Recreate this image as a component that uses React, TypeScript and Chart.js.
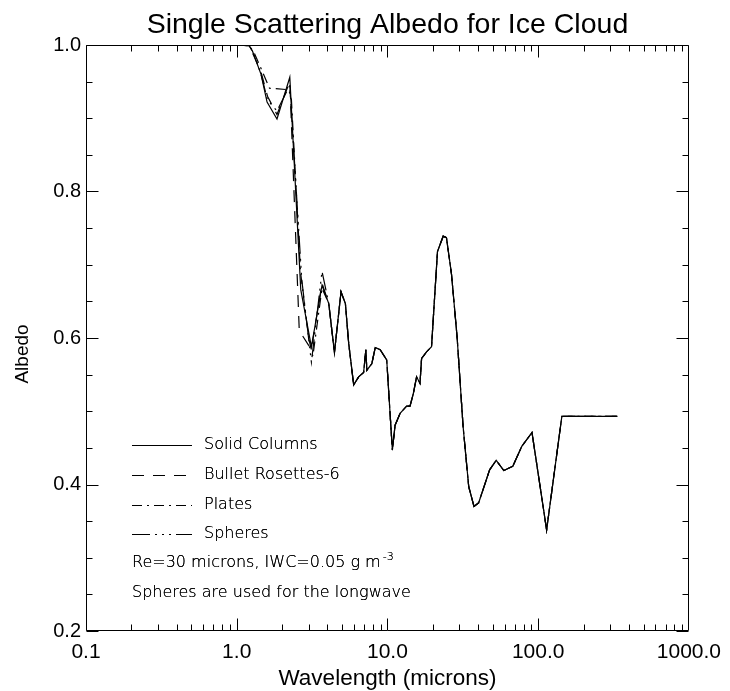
import { useEffect, useRef } from "react";
import { Chart, registerables } from "chart.js";

Chart.register(...registerables);

// Shortwave part of each habit (microns, albedo)
const solidWl = [1.0, 1.21, 1.27, 1.45, 1.59, 1.85, 2.25, 2.66, 3.13, 3.68];
const solidAlb = [1.0, 0.999, 0.992, 0.96, 0.922, 0.899, 0.956, 0.666, 0.588, 0.672];

const rosetteWl = [1.0, 1.21, 1.3, 1.45, 1.6, 1.85, 2.25, 2.6, 3.0, 3.13, 3.68];
const rosetteAlb = [1.0, 0.999, 0.985, 0.963, 0.93, 0.905, 0.95, 0.61, 0.59, 0.585, 0.675];

const plateWl = [1.0, 1.21, 1.3, 1.45, 1.65, 2.2, 2.3, 2.65, 3.0, 3.2, 3.68];
const plateAlb = [1.0, 0.999, 0.99, 0.968, 0.941, 0.939, 0.93, 0.69, 0.6, 0.575, 0.668];

const sphereWl = [1.0, 1.21, 1.3, 1.45, 1.6, 1.85, 2.25, 2.7, 3.13, 3.68];
const sphereAlb = [1.0, 0.999, 0.988, 0.96, 0.925, 0.91, 0.945, 0.68, 0.567, 0.691];

// Longwave part, common to all habits (spheres)
const longWl = [
  4.08, 4.45, 4.92, 5.26, 5.53, 5.97, 6.44, 6.95, 7.19, 7.3, 7.88, 8.3, 8.95, 9.89,
  10.78, 11.24, 12.13, 13.41, 14.12, 14.85, 15.61, 16.44, 16.85, 18.17, 19.61, 20.12,
  21.48, 23.43, 24.63, 26.58, 28.97, 31.77, 34.62, 37.52, 40.3, 47.64, 52.67, 59.19,
  67.88, 77.83, 91.0, 113.8, 143.6, 334.8,
];
const longAlb = [
  0.647, 0.58, 0.663, 0.647, 0.593, 0.536, 0.547, 0.553, 0.584, 0.556, 0.565, 0.587, 0.584, 0.57,
  0.447, 0.481, 0.497, 0.507, 0.507, 0.524, 0.547, 0.538, 0.572, 0.581, 0.588, 0.625,
  0.718, 0.739, 0.737, 0.688, 0.602, 0.479, 0.397, 0.37, 0.375, 0.42, 0.433, 0.419,
  0.425, 0.452, 0.471, 0.338, 0.493, 0.493,
];

const seriesNames = ["Solid Columns", "Bullet Rosettes-6", "Plates", "Spheres"];
const seriesDashes: number[][] = [[], [12, 9], [10, 5, 2, 5], [18, 5, 2, 5, 2, 5, 2, 5]];

const xTickValues = [0.1, 1, 10, 100, 1000];
const xTickLabels = ["0.1", "1.0", "10.0", "100.0", "1000.0"];
const yTickValues = [0.2, 0.4, 0.6, 0.8, 1.0];
const yTickLabels = ["0.2", "0.4", "0.6", "0.8", "1.0"];

const titleText = "Single Scattering Albedo for Ice Cloud";
const xTitle = "Wavelength (microns)";
const yTitle = "Albedo";
const noteLine1 = "Re=30 microns, IWC=0.05 g m";
const noteSup = "-3";
const noteLine2 = "Spheres are used for the longwave";

const toPoints = (wl: number[], alb: number[]) => {
  const pts = wl.map((w, i) => ({ x: w, y: alb[i] }));
  return pts.concat(longWl.map((w, i) => ({ x: w, y: longAlb[i] })));
};

const LABEL_FONT = "'Liberation Sans', Arial, sans-serif";
const NOTE_FONT = "200 16px 'DejaVu Sans', sans-serif";

// thin note text, filled twice so the hairline strokes read as black
const darkText = (ctx: CanvasRenderingContext2D, s: string, x: number, y: number) => {
  ctx.fillText(s, x, y);
  ctx.fillText(s, x, y);
};

const framePlugin = {
  id: "idlFrame",
  afterDatasetsDraw(chart: any) {
    const { ctx, chartArea: a, scales } = chart;
    const xs = scales.x;
    const ys = scales.y;
    const L = Math.round(a.left) + 0.5;
    const R = Math.round(a.right) - 0.5;
    const T = Math.round(a.top) + 0.5;
    const B = Math.round(a.bottom) - 0.5;
    ctx.save();
    ctx.strokeStyle = "#000";
    ctx.lineWidth = 1;
    ctx.setLineDash([]);
    ctx.beginPath();
    ctx.rect(L, T, R - L, B - T);
    // y ticks: majors every 0.2, minors every 0.05, pointing inward on both sides
    for (let k = 0; k <= 16; k++) {
      const v = 0.2 + k * 0.05;
      const py = Math.round(ys.getPixelForValue(v)) + 0.5;
      const len = k % 4 === 0 ? 12 : 6;
      ctx.moveTo(L, py);
      ctx.lineTo(L + len, py);
      ctx.moveTo(R, py);
      ctx.lineTo(R - len, py);
    }
    // x ticks: decades major, 2..9 minor
    for (let d = 0; d < 4; d++) {
      const base = xTickValues[d];
      for (let m = 1; m <= 9; m++) {
        const px = Math.round(xs.getPixelForValue(base * m)) + 0.5;
        const len = m === 1 ? 12 : 6;
        ctx.moveTo(px, B);
        ctx.lineTo(px, B - len);
        ctx.moveTo(px, T);
        ctx.lineTo(px, T + len);
      }
    }
    ctx.stroke();

    // Legend block
    const lx0 = 132;
    const lx1 = 192;
    const tx = 204;
    const rowY = [445, 475, 505, 534, 563, 593];
    ctx.font = NOTE_FONT;
    ctx.fillStyle = "#000";
    ctx.textBaseline = "middle";
    ctx.textAlign = "left";
    seriesNames.forEach((name, i) => {
      ctx.beginPath();
      ctx.setLineDash(seriesDashes[i]);
      ctx.moveTo(lx0, rowY[i] + 0.5);
      ctx.lineTo(lx1, rowY[i] + 0.5);
      ctx.stroke();
      darkText(ctx, name, tx, rowY[i]);
    });
    ctx.setLineDash([]);
    darkText(ctx, noteLine1, lx0, rowY[4]);
    const w1 = ctx.measureText(noteLine1).width;
    ctx.font = "200 11px 'DejaVu Sans', sans-serif";
    darkText(ctx, noteSup, lx0 + w1 + 2, rowY[4] - 6);
    ctx.font = NOTE_FONT;
    darkText(ctx, noteLine2, lx0, rowY[5]);
    ctx.restore();
  },
  afterDraw(chart: any) {
    const { ctx, chartArea: a } = chart;
    const cx = (a.left + a.right) / 2;
    ctx.save();
    ctx.fillStyle = "#000";
    ctx.textAlign = "center";
    ctx.textBaseline = "alphabetic";
    ctx.font = `28.5px ${LABEL_FONT}`;
    ctx.fillText(titleText, cx, 33);
    ctx.font = `22.5px ${LABEL_FONT}`;
    ctx.fillText(xTitle, cx, 685);
    ctx.translate(28, 354);
    ctx.rotate(-Math.PI / 2);
    ctx.font = `19px ${LABEL_FONT}`;
    ctx.fillText(yTitle, 0, 0);
    ctx.restore();
  },
};

export default function App() {
  const canvasRef = useRef<HTMLCanvasElement | null>(null);

  useEffect(() => {
    const canvas = canvasRef.current;
    if (!canvas) return;
    const shortwave = [
      [solidWl, solidAlb],
      [rosetteWl, rosetteAlb],
      [plateWl, plateAlb],
      [sphereWl, sphereAlb],
    ];
    const datasets = seriesNames
      .map((name, i) => ({
        label: name,
        data: toPoints(shortwave[i][0], shortwave[i][1]),
        showLine: true,
        borderColor: "#000",
        backgroundColor: "#000",
        borderWidth: 1.2,
        borderDash: seriesDashes[i],
        pointRadius: 0,
        tension: 0,
        order: i,
      }))
      .reverse();

    const chart = new Chart(canvas, {
      type: "scatter",
      data: { datasets },
      options: {
        responsive: false,
        animation: false,
        devicePixelRatio: 1,
        layout: { padding: { top: 45, right: 38, left: 0, bottom: 0 } },
        plugins: {
          legend: { display: false },
          tooltip: { enabled: false },
          title: { display: false },
        },
        scales: {
          x: {
            type: "logarithmic",
            min: 0.1,
            max: 1000,
            position: "bottom",
            afterBuildTicks: (s: any) => {
              s.ticks = xTickValues.map((v) => ({ value: v }));
            },
            afterFit: (s: any) => {
              s.height = 60;
            },
            grid: { display: false, drawTicks: false },
            border: { display: false },
            ticks: {
              callback: (_v: any, i: number) => xTickLabels[i],
              padding: 9,
              autoSkip: false,
              maxRotation: 0,
              color: "#000",
              font: { family: LABEL_FONT, size: 21 },
            },
          },
          y: {
            type: "linear",
            min: 0.2,
            max: 1.0,
            afterBuildTicks: (s: any) => {
              s.ticks = yTickValues.map((v) => ({ value: v }));
            },
            afterFit: (s: any) => {
              s.width = 86;
            },
            grid: { display: false, drawTicks: false },
            border: { display: false },
            ticks: {
              callback: (_v: any, i: number) => yTickLabels[i],
              padding: 5,
              autoSkip: false,
              color: "#000",
              font: { family: LABEL_FONT, size: 20 },
            },
          },
        },
      },
      plugins: [framePlugin],
    } as any);

    return () => chart.destroy();
  }, []);

  return (
    <div style={{ position: "absolute", left: 0, top: 0, width: 730, height: 691, background: "#fff" }}>
      <canvas ref={canvasRef} width={730} height={691} style={{ display: "block" }} />
    </div>
  );
}
